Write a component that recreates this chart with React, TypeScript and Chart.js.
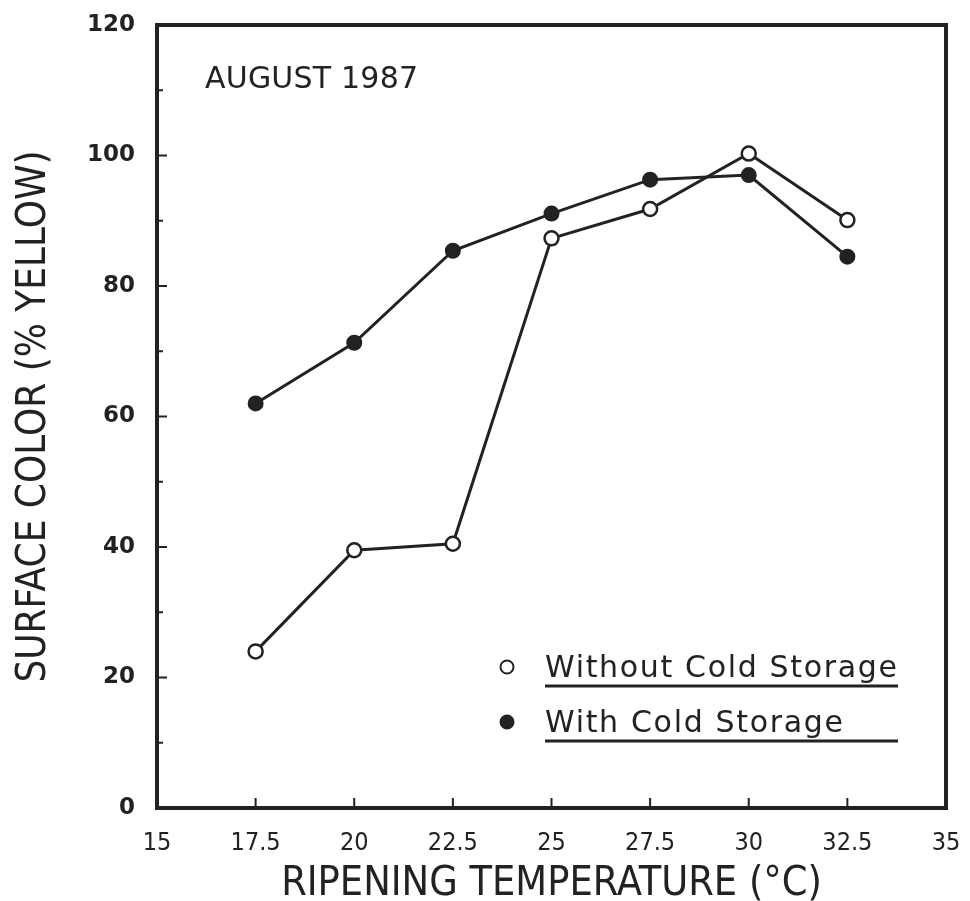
import React, { useEffect, useRef } from "react";
import { Chart, registerables } from "chart.js";

Chart.register(...registerables);

const temperatures = [17.5, 20, 22.5, 25, 27.5, 30, 32.5];
const withoutCold = [24, 39.5, 40.5, 87.3, 91.8, 100.3, 90.1];
const withCold = [62, 71.3, 85.4, 91.1, 96.3, 97, 84.5];
const xTickValues = [15, 17.5, 20, 22.5, 25, 27.5, 30, 32.5, 35];
const yTickValues = [0, 10, 20, 30, 40, 50, 60, 70, 80, 90, 100, 110, 120];
const seriesLabels = ["Without Cold Storage", "With Cold Storage"];
const panelLabel = "AUGUST 1987";
const xTitle = "RIPENING TEMPERATURE (°C)";
const yTitle = "SURFACE COLOR (% YELLOW)";

const INK = "#222222";

function spacedText(ctx: CanvasRenderingContext2D, text: string, x: number, y: number, target: number) {
  ctx.save();
  (ctx as any).letterSpacing = "0px";
  const w = ctx.measureText(text).width;
  const ls = (target - w) / Math.max(1, text.length - 1);
  (ctx as any).letterSpacing = ls.toFixed(2) + "px";
  ctx.fillText(text, x, y);
  ctx.restore();
}

const framePlugin = {
  id: "framePlugin",
  beforeDatasetsDraw(chart: any) {
    const { ctx, chartArea } = chart;
    const xs = chart.scales.x;
    const ys = chart.scales.y;
    ctx.save();
    ctx.strokeStyle = INK;
    ctx.lineWidth = 4;
    ctx.strokeRect(chartArea.left, chartArea.top, chartArea.right - chartArea.left, chartArea.bottom - chartArea.top);
    ctx.lineWidth = 2;
    ctx.beginPath();
    xs.ticks.forEach((t: any) => {
      if (t.value <= xs.min || t.value >= xs.max) return;
      const px = xs.getPixelForValue(t.value);
      ctx.moveTo(px, chartArea.bottom);
      ctx.lineTo(px, chartArea.bottom - 10);
    });
    ys.ticks.forEach((t: any) => {
      if (t.value <= ys.min || t.value >= ys.max) return;
      const py = ys.getPixelForValue(t.value);
      const len = t.value % 20 === 0 ? 10 : 6;
      ctx.moveTo(chartArea.left, py);
      ctx.lineTo(chartArea.left + len, py);
    });
    ctx.stroke();
    ctx.restore();
  },
  afterDatasetsDraw(chart: any) {
    const { ctx, chartArea } = chart;
    const L = chartArea.left;
    const T = chartArea.top;
    const B = chartArea.bottom;
    ctx.save();
    ctx.fillStyle = INK;
    ctx.textBaseline = "alphabetic";
    ctx.textAlign = "left";
    ctx.font = "30px 'DejaVu Sans'";
    spacedText(ctx, panelLabel, L + 48, T + 63, 213);

    // legend
    const rows = [
      { label: seriesLabels[0], fill: "#ffffff", y: B - 131, w: 352 },
      { label: seriesLabels[1], fill: INK, y: B - 76, w: 298 },
    ];
    rows.forEach((r) => {
      ctx.beginPath();
      ctx.arc(L + 350, r.y - 10, 6.5, 0, Math.PI * 2);
      ctx.fillStyle = r.fill;
      ctx.fill();
      ctx.lineWidth = 2;
      ctx.strokeStyle = INK;
      ctx.stroke();
      ctx.fillStyle = INK;
      ctx.font = "30px 'DejaVu Sans'";
      spacedText(ctx, r.label, L + 388, r.y, r.w);
      ctx.lineWidth = 3;
      ctx.beginPath();
      ctx.moveTo(L + 388, r.y + 9);
      ctx.lineTo(L + 741, r.y + 9);
      ctx.stroke();
    });
    ctx.restore();
  },
};

export default function App() {
  const ref = useRef<HTMLCanvasElement | null>(null);
  useEffect(() => {
    if (!ref.current) return;
    const mk = (data: number[]) => temperatures.map((t, i) => ({ x: t, y: data[i] }));
    const chart = new Chart(ref.current, {
      type: "line",
      data: {
        datasets: [
          {
            label: seriesLabels[1],
            data: mk(withCold),
            borderColor: INK,
            borderWidth: 3,
            backgroundColor: INK,
            pointBackgroundColor: INK,
            pointBorderColor: INK,
            pointBorderWidth: 2,
            pointRadius: 7,
            tension: 0,
          },
          {
            label: seriesLabels[0],
            data: mk(withoutCold),
            borderColor: INK,
            borderWidth: 3,
            backgroundColor: "#ffffff",
            pointBackgroundColor: "#ffffff",
            pointBorderColor: INK,
            pointBorderWidth: 2.5,
            pointRadius: 7,
            tension: 0,
          },
        ],
      },
      options: {
        responsive: false,
        animation: false,
        devicePixelRatio: 1,
        layout: { padding: { top: 25, right: 24, bottom: 0, left: 0 } },
        plugins: { legend: { display: false }, tooltip: { enabled: false } },
        scales: {
          x: {
            type: "linear",
            min: 15,
            max: 35,
            afterBuildTicks: (s: any) => {
              s.ticks = xTickValues.map((v) => ({ value: v }));
            },
            afterFit: (s: any) => {
              s.height = 93;
              s.paddingLeft = 0;
              s.paddingRight = 0;
            },
            grid: { display: false, drawTicks: false },
            border: { display: false },
            ticks: {
              color: INK,
              padding: 20,
              maxRotation: 0,
              autoSkip: false,
              font: { family: "'Liberation Sans Narrow', 'DejaVu Sans Condensed', sans-serif", size: 25 },
              callback: (v: any) => String(v),
            },
            title: {
              display: true,
              text: xTitle,
              color: INK,
              padding: { top: 0, bottom: -8 },
              font: { family: "'Liberation Sans Narrow', 'DejaVu Sans Condensed', sans-serif", size: 41 },
            },
          },
          y: {
            type: "linear",
            min: 0,
            max: 120,
            afterBuildTicks: (s: any) => {
              s.ticks = yTickValues.map((v) => ({ value: v }));
            },
            afterFit: (s: any) => {
              s.width = 157;
              s.paddingTop = 0;
              s.paddingBottom = 0;
            },
            grid: { display: false, drawTicks: false },
            border: { display: false },
            ticks: {
              color: INK,
              padding: 22,
              autoSkip: false,
              font: { family: "'DejaVu Sans', sans-serif", size: 23, weight: "bold" },
              callback: (v: any) => (Number(v) % 20 === 0 ? String(v) : ""),
            },
            title: {
              display: true,
              text: yTitle,
              color: INK,
              padding: { top: 11, bottom: 0 },
              font: { family: "'Liberation Sans Narrow', 'DejaVu Sans Condensed', sans-serif", size: 40 },
            },
          },
        },
      },
      plugins: [framePlugin],
    } as any);
    return () => chart.destroy();
  }, []);
  return (
    <div style={{ position: "fixed", left: 0, top: 0, width: 970, height: 901, background: "#fff" }}>
      <canvas ref={ref} width={970} height={901} style={{ display: "block" }} />
    </div>
  );
}
